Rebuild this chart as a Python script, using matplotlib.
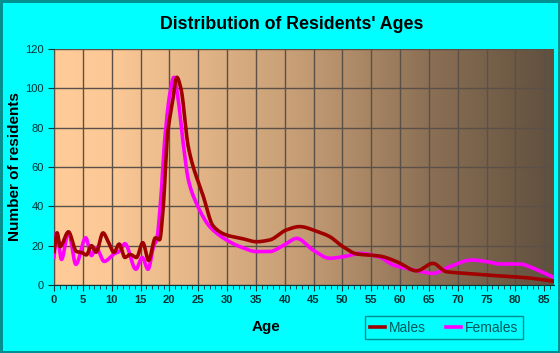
import numpy as np
import matplotlib
matplotlib.use("Agg")
import matplotlib.pyplot as plt
from matplotlib.colors import LinearSegmentedColormap
from matplotlib.lines import Line2D

# ---- data ----
male_age = [0, 0.55, 1.05, 2.5, 3.9, 4.8, 5.6, 6.5, 7.3, 8.5, 9.4, 10.4, 11.3, 12.3, 13.2,
            14.3, 15.4, 16.4, 17.6, 18.3, 18.9, 19.7, 20.5, 21.3, 22.0, 23.3, 25.9, 27.6,
            29.9, 32.5, 35.1, 37.4, 40.3, 42.6, 45.5, 47.8, 50.1, 52.5, 56.5, 59.4, 62.9,
            65.7, 68.0, 71.5, 77.3, 81.9, 86.7]
male_val = [17, 26.5, 19.5, 27, 17, 16.5, 15.3, 20, 16.7, 26.5, 22, 16.6, 20.8, 14, 15.5,
            14, 21.5, 12.5, 24, 23, 38, 77, 92, 105.6, 100, 70, 45, 30,
            25.4, 23.7, 22, 22.9, 28, 29.7, 27.4, 24.6, 19.5, 15.8, 14.7, 11.9, 7.2,
            11, 6.8, 5.9, 4.6, 3.7, 1.9]

female_age = [0, 0.45, 1.3, 2.5, 3.8, 5.5, 6.5, 7.3, 8.7, 10.5, 11.3, 12.3, 14.2, 15.3,
              16.3, 17.3, 17.8, 18.5, 19.2, 20.1, 20.8, 21.5, 22.4, 23.3, 24.7, 27.0, 29.9,
              32.5, 35.1, 37.4, 39.7, 42.1, 44.9, 47.8, 50.7, 53.0, 56.5, 58.8, 61.1, 62.9,
              65.7, 68.6, 72.4, 75.0, 77.3, 80.8, 83.1, 86.7]
female_val = [14, 26.4, 13, 27, 10.5, 24, 15, 19, 12, 16, 17, 21, 8, 14,
              8, 20, 23, 43, 73.7, 97.5, 105.6, 95, 72, 53.4, 41.5, 29.7, 22.9,
              19.2, 17, 17, 20, 23.7, 17.8, 13.6, 14.7, 16.1, 14.1, 10.2, 8.5, 7.3,
              5.9, 9.3, 12.7, 11.9, 10.7, 10.7, 8.5, 3.8]

x_ticks = list(range(0, 90, 5))
y_ticks = [0, 20, 40, 60, 80, 100, 120]


def smooth(xs, ys, n=20):
    """Monotone cubic (PCHIP-style) rendering of the read points."""
    x = np.asarray(xs, float)
    y = np.asarray(ys, float)
    h = np.diff(x)
    d = np.diff(y) / h
    m = np.zeros_like(y)
    m[0], m[-1] = d[0], d[-1]
    for i in range(1, len(x) - 1):
        if d[i - 1] * d[i] <= 0:
            m[i] = 0
        else:
            w1 = 2 * h[i] + h[i - 1]
            w2 = h[i] + 2 * h[i - 1]
            m[i] = (w1 + w2) / (w1 / d[i - 1] + w2 / d[i])
    xo, yo = [], []
    for i in range(len(x) - 1):
        t = np.linspace(0, 1, n, endpoint=False)
        h00 = 2 * t**3 - 3 * t**2 + 1
        h10 = t**3 - 2 * t**2 + t
        h01 = -2 * t**3 + 3 * t**2
        h11 = t**3 - t**2
        xo.extend(x[i] + t * h[i])
        yo.extend(h00 * y[i] + h10 * h[i] * m[i] + h01 * y[i + 1] + h11 * h[i] * m[i + 1])
    xo.append(x[-1])
    yo.append(y[-1])
    return np.array(xo), np.array(yo)


plt.rcParams['font.family'] = ['Liberation Sans', 'DejaVu Sans']

fig = plt.figure(figsize=(5.6, 3.53), dpi=100)
fig.patch.set_facecolor('#00FFFF')
fig.patch.set_edgecolor('#009090')
fig.patch.set_linewidth(2.5)

ax = fig.add_axes([54 / 560, 68 / 353, 500 / 560, 236 / 353])
XMAX = 86.7
ax.set_xlim(0, XMAX)
ax.set_ylim(0, 120)

cmap = LinearSegmentedColormap.from_list('bg', [
    (0.0, (255/255, 204/255, 153/255)),
    (0.12, (251/255, 200/255, 150/255)),
    (0.5, (196/255, 156/255, 116/255)),
    (0.75, (140/255, 112/255, 85/255)),
    (1.0, (96/255, 80/255, 62/255)),
])
grad = np.linspace(0, 1, 256).reshape(1, -1)
ax.imshow(grad, cmap=cmap, extent=[0, XMAX, 0, 120], aspect='auto', zorder=0)

ax.set_xticks(x_ticks)
ax.set_xticks(range(0, 87), minor=True)
ax.set_yticks(y_ticks)
ax.grid(True, which='major', color='#5a5048', linewidth=1.0, zorder=1)
ax.set_axisbelow(False)
for g in ax.get_xgridlines() + ax.get_ygridlines():
    g.set_zorder(1)

mx, my = smooth(male_age, male_val)
fx, fy = smooth(female_age, female_val)
ax.plot(fx, fy, color='#FF00FF', linewidth=2.6, zorder=3, solid_joinstyle='round')
ax.plot(mx, my, color='#A00000', linewidth=2.6, zorder=4, solid_joinstyle='round')

for s in ['top', 'right']:
    ax.spines[s].set_visible(False)
ax.spines['left'].set_color('#003838')
ax.spines['bottom'].set_color('#003838')
ax.tick_params(axis='both', which='major', direction='out', length=4, color='#003838',
               labelsize=8, labelcolor='#003333')
ax.tick_params(axis='x', which='minor', direction='out', length=3, color='#003838')
for lab in ax.get_xticklabels():
    lab.set_fontweight('bold')

fig.text(292 / 560, 1 - 24.5 / 353, "Distribution of Residents' Ages", ha='center', va='center',
         fontsize=12.8, fontweight='bold', color='#000000')
fig.text(266 / 560, 1 - 327 / 353, 'Age', ha='center', va='center', fontsize=11,
         fontweight='bold', color='#000000')
fig.text(15 / 560, 1 - 167 / 353, 'Number of residents', ha='center', va='center',
         rotation=90, fontsize=11, fontweight='bold', color='#000000')

handles = [Line2D([], [], color='#A00000', linewidth=2.6),
           Line2D([], [], color='#FF00FF', linewidth=2.6)]
leg = fig.legend(handles, ['Males', 'Females'], loc='center',
                 bbox_to_anchor=(444 / 560, 1 - 327.5 / 353), ncol=2, frameon=True,
                 fontsize=10, handlelength=1.1, handletextpad=0.3, columnspacing=1.4,
                 borderpad=0.3, fancybox=False)
leg.get_frame().set_facecolor('#00FFFF')
leg.get_frame().set_edgecolor('#007070')
leg.get_frame().set_linewidth(1.0)
for t in leg.get_texts():
    t.set_color('#005858')

fig.savefig('out.png', dpi=100, facecolor=fig.get_facecolor(), edgecolor=fig.get_edgecolor())
